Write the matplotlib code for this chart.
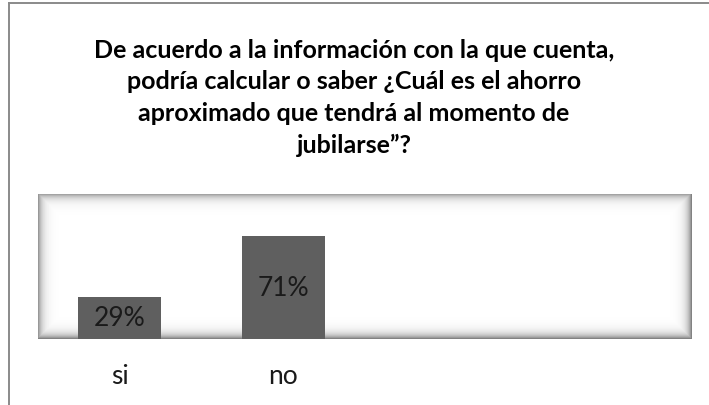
import numpy as np
import matplotlib
matplotlib.use("Agg")
import matplotlib.pyplot as plt
from matplotlib.lines import Line2D

categories = ["si", "no", "", ""]
values = [0.29, 0.71, None, None]
labels = ["29%", "71%"]
title = ("De acuerdo a la información con la que cuenta,\n"
         "podría calcular o saber ¿Cuál es el ahorro\n"
         "aproximado que tendrá al momento de\n"
         "jubilarse\u201d?")

plt.rcParams['font.family'] = ['Lato', 'DejaVu Sans']

W, H = 709, 406
fig = plt.figure(figsize=(W / 100, H / 100), dpi=100)
fig.patch.set_facecolor("white")

# outer chart frame (left and top edges visible)
fig.add_artist(Line2D([9 / W, 9 / W], [0, 1 - 4 / H], color="#8a8a8a", lw=1.4,
                      transform=fig.transFigure))
fig.add_artist(Line2D([9 / W, 1], [1 - 4 / H, 1 - 4 / H], color="#8a8a8a", lw=1.4,
                      transform=fig.transFigure))

fig.text(354 / W, 1 - 98 / H, title, ha="center", va="center", fontsize=18,
         fontweight="bold", color="#000000", linespacing=1.46)

ax_l, ax_r, ax_t, ax_b = 38, 692, 195, 340
ax = fig.add_axes([ax_l / W, 1 - ax_b / H, (ax_r - ax_l) / W, (ax_b - ax_t) / H])

# inner shadow of plot area
nx, ny = ax_r - ax_l, ax_b - ax_t
xx = np.arange(nx)[None, :] + 0.5
yy = np.arange(ny)[:, None] + 0.5
d_left = xx
d_right = nx - xx
d_top = yy
d_bot = ny - yy
shade = np.maximum.reduce([
    0.45 * np.exp(-d_left / 4.5) * np.ones_like(yy),
    0.55 * np.exp(-d_right / 4.5) * np.ones_like(yy),
    0.40 * np.exp(-d_top / 4.5) * np.ones_like(xx),
    0.55 * np.exp(-d_bot / 4.5) * np.ones_like(xx),
])
img = 1 - shade
ax.imshow(img, cmap="gray", vmin=0, vmax=1, extent=[0, 1, 0, 1],
          transform=ax.transAxes, aspect="auto", zorder=0, interpolation="bilinear")

x = np.arange(len(categories))
bar_vals = [v for v in values if v is not None]
bars = ax.bar(x[:len(bar_vals)], bar_vals, width=0.51, color="#5f5f5f", zorder=2)
for b, lab in zip(bars, labels):
    ax.text(b.get_x() + b.get_width() / 2, b.get_height() / 2, lab,
            ha="center", va="center", fontsize=19, color="#1a1a1a", zorder=3)

ax.set_xlim(-0.5, len(categories) - 0.5)
ax.set_ylim(0, 1.0)
ax.set_xticks(x[:2])
ax.set_xticklabels(categories[:2], fontsize=19, color="#1a1a1a")
ax.tick_params(axis="x", length=0, pad=17)
ax.set_yticks([])
for s in ax.spines.values():
    s.set_visible(False)

fig.savefig("out.png", dpi=100, facecolor="white")
